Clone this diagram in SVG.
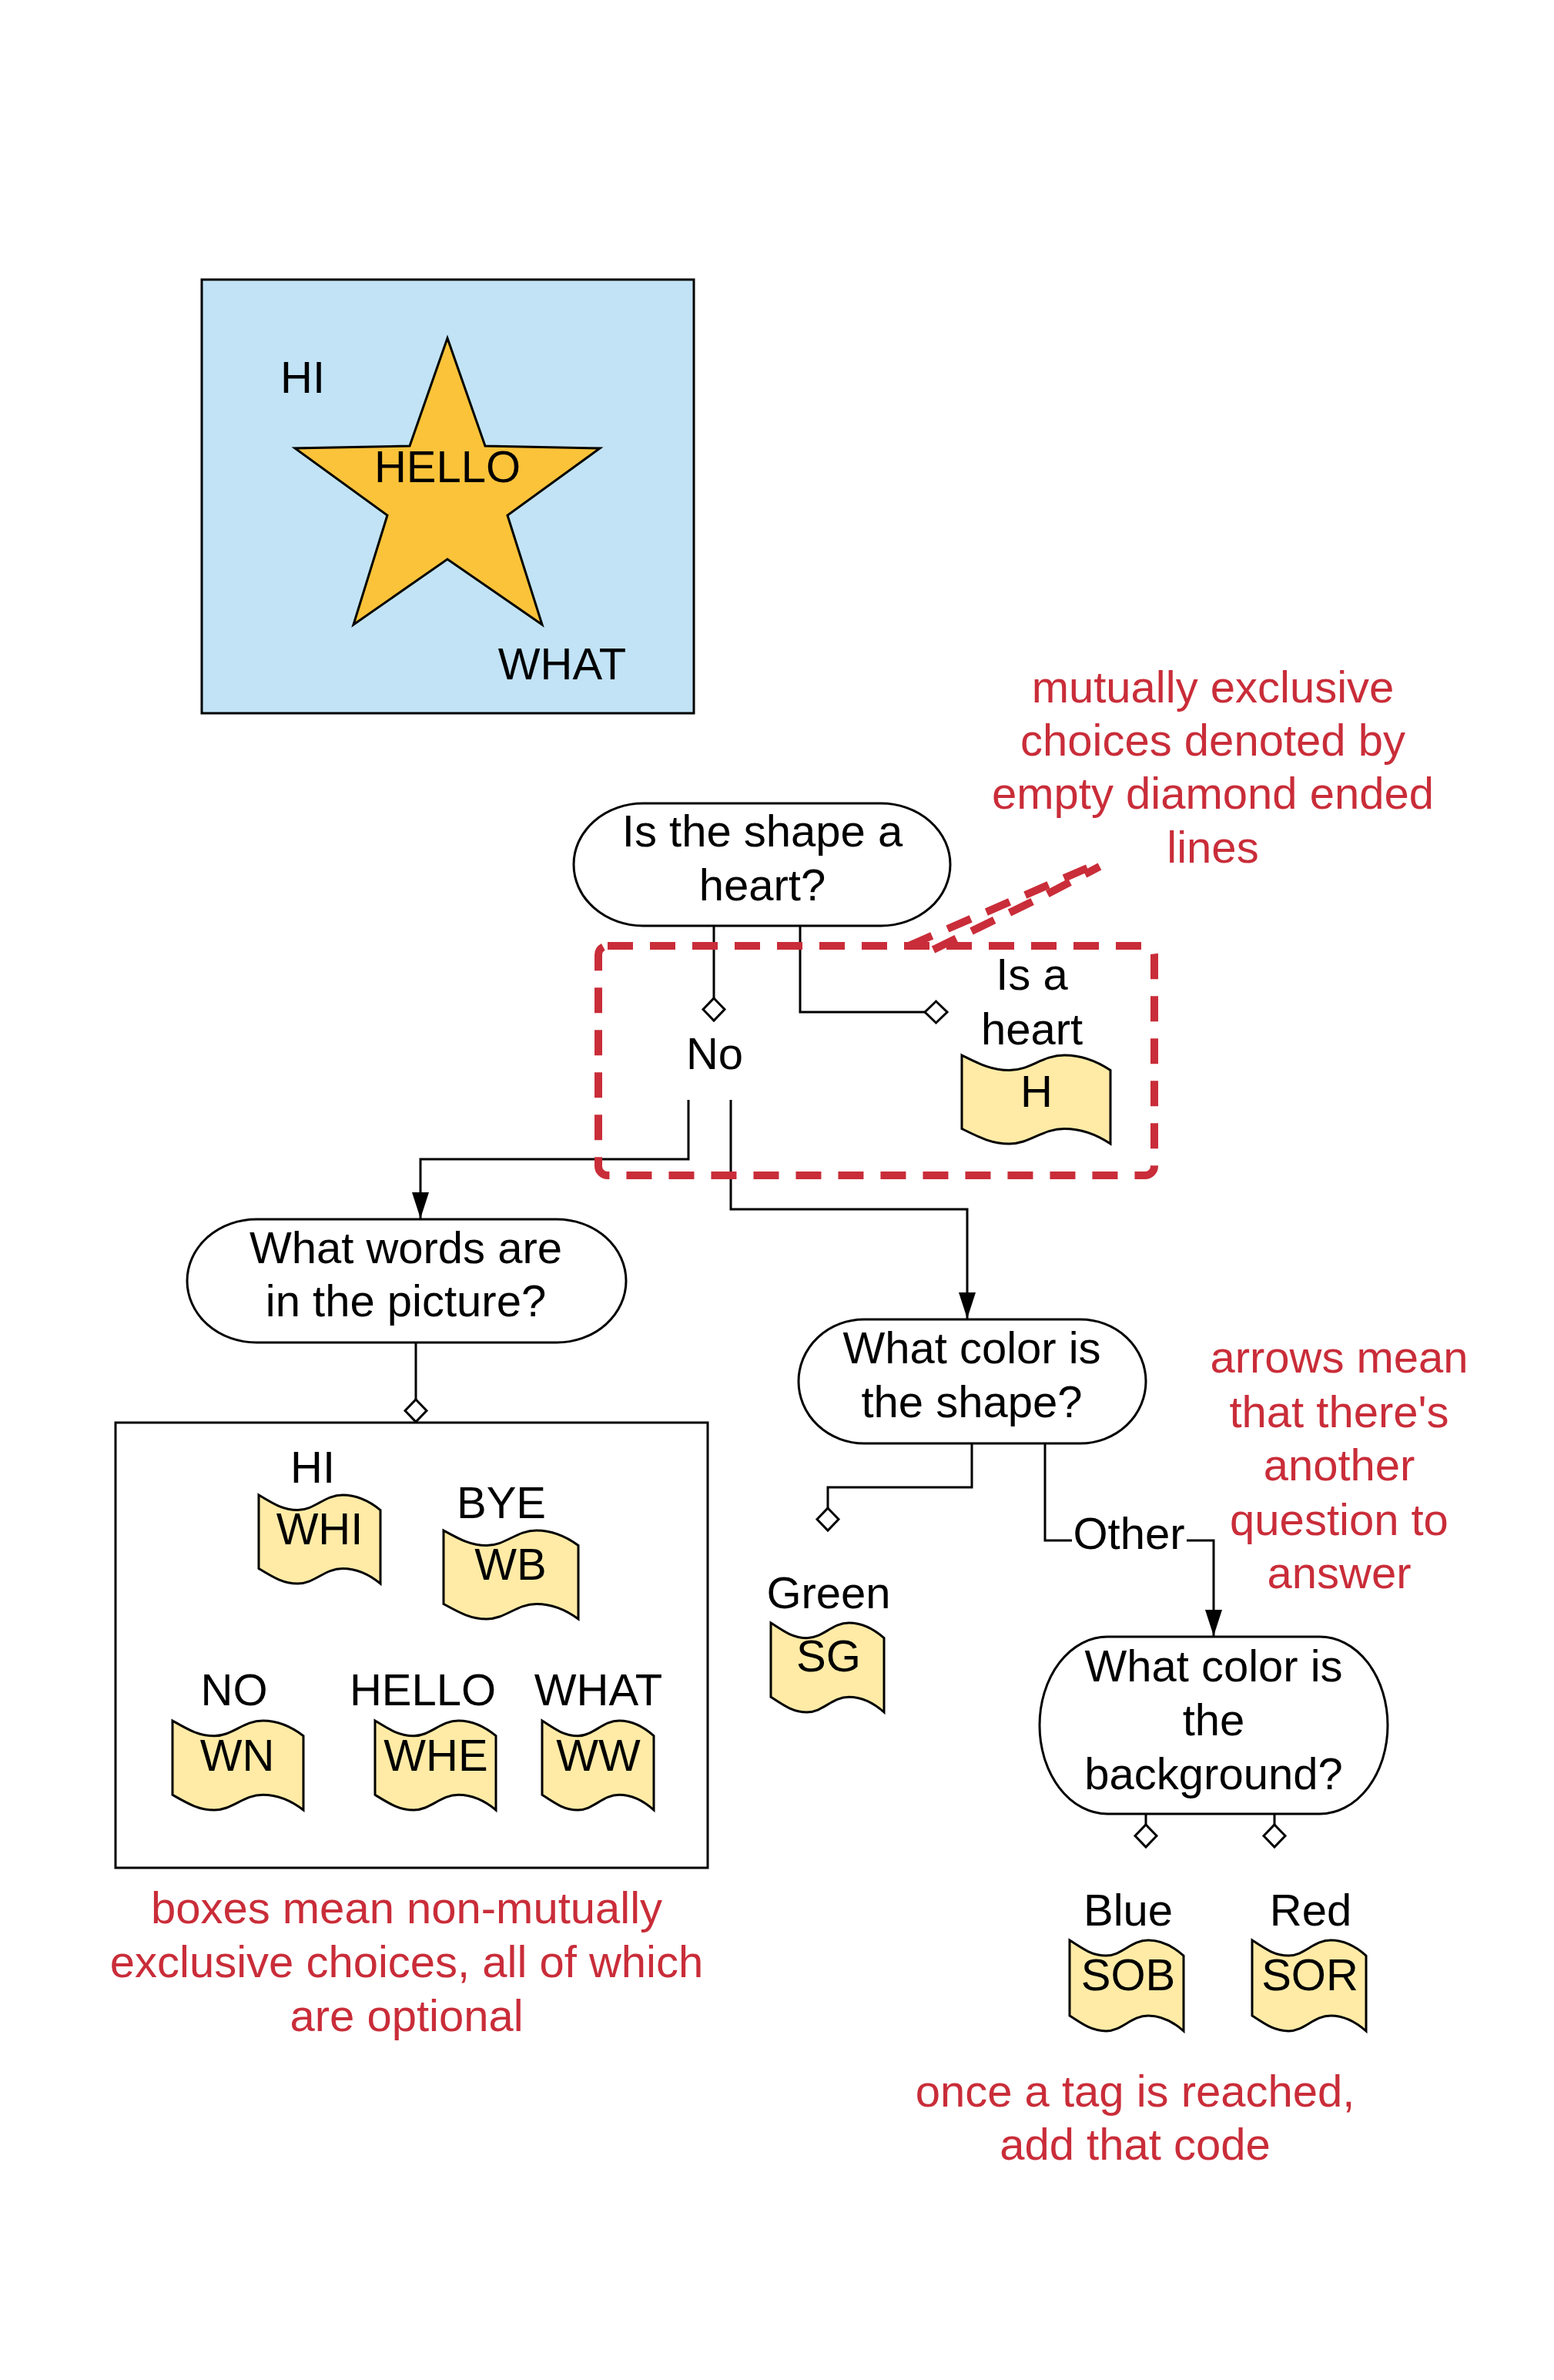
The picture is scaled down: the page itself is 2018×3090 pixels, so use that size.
<svg xmlns="http://www.w3.org/2000/svg" width="2018" height="3090" viewBox="0 0 2018 3090">
<style>
text{font-family:"Liberation Sans",Arial,sans-serif;font-size:58px;fill:#000;text-anchor:middle}
.red{fill:#C92D39}
.ln{fill:none;stroke:#000;stroke-width:3}
.node{fill:#fff;stroke:#000;stroke-width:3}
.tape{fill:#FFEBA6;stroke:#000;stroke-width:3}
.dash{fill:none;stroke:#C92D39;stroke-width:10;stroke-dasharray:33 22}
</style>
<defs>
<marker id="arrow" markerUnits="userSpaceOnUse" markerWidth="36" markerHeight="26" viewBox="0 -13 36 26" refX="34" refY="0" orient="auto">
<path d="M0,-11 L34,0 L0,11 Z" fill="#000"/>
</marker>
<marker id="dia" markerUnits="userSpaceOnUse" markerWidth="34" markerHeight="34" viewBox="-2 -17 34 34" refX="0" refY="0" orient="auto" overflow="visible">
<path d="M0,0 L14.5,-14 L29,0 L14.5,14 Z" fill="#fff" stroke="#000" stroke-width="3"/>
</marker>
<path id="tp" vector-effect="non-scaling-stroke" d="M0,0 C12,10 20,17 32,17 C46,17 54,0 69,0 C82,0 92,8 100,17 L100,100 C92,91 82,83 69,83 C54,83 46,100 32,100 C20,100 12,93 0,83 Z"/>
</defs>
<rect width="2018" height="3090" fill="#fff"/>

<g id="picture">
<rect x="262" y="363" width="639" height="563" fill="#C1E3F5" stroke="#000" stroke-width="3"/>
<polygon points="581,439 630,579 779,582 659,669 704,811 581,726 459,811 503,669 383,582 532,579" fill="#FBC33A" stroke="#000" stroke-width="3"/>
<text x="393" y="510">HI</text>
<text x="581" y="626">HELLO</text>
<text x="730" y="882">WHAT</text>
</g>

<g id="connectors">
<path class="ln" d="M927,1202 V1296" marker-end="url(#dia)"/>
<path class="ln" d="M1039,1202 V1314 H1201" marker-end="url(#dia)"/>
<path class="ln" d="M894,1428 V1505 H546 V1582" marker-end="url(#arrow)"/>
<path class="ln" d="M949,1428 V1570 H1256 V1712" marker-end="url(#arrow)"/>
<path class="ln" d="M540,1743 V1817" marker-end="url(#dia)"/>
<path class="ln" d="M1262,1874 V1931 H1075 V1958" marker-end="url(#dia)"/>
<path class="ln" d="M1357,1874 V2000 H1392"/>
<path class="ln" d="M1541,2000 H1576 V2124" marker-end="url(#arrow)"/>
<path class="ln" d="M1488,2355 V2369" marker-end="url(#dia)"/>
<path class="ln" d="M1655,2355 V2369" marker-end="url(#dia)"/>
<text x="1466" y="2011">Other</text>
</g>

<g id="node-heart">
<rect class="node" x="745" y="1043" width="489" height="159" rx="90" ry="79.5"/>
<text x="990" y="1099">Is the shape a</text>
<text x="990" y="1169">heart?</text>
</g>

<g id="label-no">
<text x="928" y="1388">No</text>
</g>

<g id="node-words">
<rect class="node" x="243" y="1583" width="570" height="160" rx="90" ry="80"/>
<text x="527" y="1640">What words are</text>
<text x="527" y="1709">in the picture?</text>
</g>

<g id="node-shape-color">
<rect class="node" x="1037" y="1713" width="451" height="161" rx="85" ry="80.5"/>
<text x="1262" y="1770">What color is</text>
<text x="1262" y="1840">the shape?</text>
</g>

<g id="node-bg-color">
<rect class="node" x="1350" y="2125" width="452" height="230" rx="88" ry="115"/>
<text x="1576" y="2183">What color is</text>
<text x="1576" y="2253">the</text>
<text x="1576" y="2323">background?</text>
</g>

<g id="tag-H">
<text x="1340" y="1285">Is a</text>
<text x="1340" y="1356">heart</text>
<use href="#tp" class="tape" transform="translate(1249,1370) scale(1.93,1.15)"/>
<text x="1346" y="1437">H</text>
</g>

<g id="words-box">
<rect x="150" y="1847" width="769" height="578" fill="#fff" stroke="#000" stroke-width="3"/>
</g>

<g id="tag-WHI">
<text x="406" y="1925">HI</text>
<use href="#tp" class="tape" transform="translate(336,1941) scale(1.58,1.15)"/>
<text x="415" y="2005">WHI</text>
</g>
<g id="tag-WB">
<text x="651" y="1971">BYE</text>
<use href="#tp" class="tape" transform="translate(576,1987) scale(1.75,1.15)"/>
<text x="663" y="2051">WB</text>
</g>
<g id="tag-WN">
<text x="304" y="2214">NO</text>
<use href="#tp" class="tape" transform="translate(224,2234) scale(1.70,1.16)"/>
<text x="308" y="2299">WN</text>
</g>
<g id="tag-WHE">
<text x="549" y="2214">HELLO</text>
<use href="#tp" class="tape" transform="translate(487,2234) scale(1.57,1.16)"/>
<text x="566" y="2299">WHE</text>
</g>
<g id="tag-WW">
<text x="777" y="2214">WHAT</text>
<use href="#tp" class="tape" transform="translate(704,2234) scale(1.45,1.16)"/>
<text x="777" y="2299">WW</text>
</g>
<g id="tag-SG">
<text x="1076" y="2088">Green</text>
<use href="#tp" class="tape" transform="translate(1001,2107) scale(1.47,1.16)"/>
<text x="1076" y="2170">SG</text>
</g>
<g id="tag-SOB">
<text x="1465" y="2500">Blue</text>
<use href="#tp" class="tape" transform="translate(1389,2519) scale(1.48,1.18)"/>
<text x="1465" y="2584">SOB</text>
</g>
<g id="tag-SOR">
<text x="1702" y="2500">Red</text>
<use href="#tp" class="tape" transform="translate(1626,2519) scale(1.48,1.18)"/>
<text x="1701" y="2584">SOR</text>
</g>

<g id="exclusive-group">
<rect class="dash" x="777" y="1228" width="722" height="298" rx="12"/>
<path class="dash" d="M1180,1228 L1428,1120"/>
<path class="dash" d="M1212,1233 L1350,1166 L1428,1125"/>
</g>

<g id="notes">
<text class="red" x="1575" y="912">mutually exclusive</text>
<text class="red" x="1575" y="981">choices denoted by</text>
<text class="red" x="1575" y="1050">empty diamond ended</text>
<text class="red" x="1575" y="1120">lines</text>
<text class="red" x="1739" y="1782">arrows mean</text>
<text class="red" x="1739" y="1853">that there's</text>
<text class="red" x="1739" y="1922">another</text>
<text class="red" x="1739" y="1993">question to</text>
<text class="red" x="1739" y="2062">answer</text>
<text class="red" x="528" y="2497">boxes mean non-mutually</text>
<text class="red" x="528" y="2567">exclusive choices, all of which</text>
<text class="red" x="528" y="2637">are optional</text>
<text class="red" x="1474" y="2735">once a tag is reached,</text>
<text class="red" x="1474" y="2804">add that code</text>
</g>
</svg>
